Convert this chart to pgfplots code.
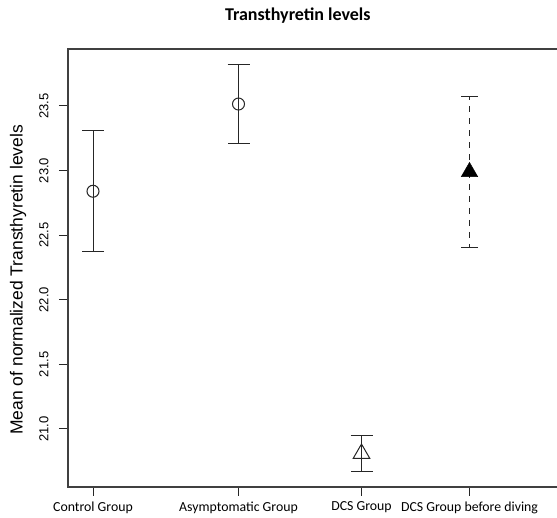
\documentclass[border=0pt]{standalone}
\usepackage{fontspec}
\setmainfont{Liberation Sans}
\newfontfamily\calibri{Carlito}
\usepackage{pgfplots}
\pgfplotsset{compat=1.18}
\begin{document}
\begin{tikzpicture}
\useasboundingbox (0,0) rectangle (557pt,518pt);
\begin{axis}[
  at={(68pt,31pt)}, anchor=south west,
  scale only axis, width=489pt, height=438pt,
  xmin=68, xmax=557, ymin=20.551, ymax=23.941,
  clip=false,
  axis line style={draw=none},
  tick align=outside, major tick length=9pt,
  tick style={black!85, line width=1pt},
  xtick pos=bottom, ytick pos=left,
  xtick={93,238.5,361.5,469.5},
  xticklabels={Control Group, Asymptomatic Group, DCS Group, DCS Group before diving},
  xticklabel style={font=\calibri\fontsize{13.8}{15}\selectfont, anchor=north, yshift=-2pt},
  ytick={21,21.5,...,23.5},
  yticklabel style={font=\fontsize{13}{15}\selectfont, rotate=90, anchor=south},
  yticklabel shift=7pt,
  /pgf/number format/.cd, fixed, fixed zerofill, precision=1, assume math mode=true,
  /pgfplots/.cd,
  ylabel={Mean of normalized Transthyretin levels},
  ylabel style={font=\fontsize{17.5}{19}\selectfont, at={(rel axis cs:-0.102,0.473)}, anchor=center},
  title={Transthyretin levels},
  title style={font=\calibri\bfseries\fontsize{18}{20}\selectfont, at={(rel axis cs:0.47,1.062)}, anchor=center},
  error bars/error bar style={line width=1pt, black!85},
  error bars/error mark options={solid, mark size=11pt, line width=1pt, black!85},
]
\draw[line width=1.3pt, black!75] (rel axis cs:1.01,0) -- (rel axis cs:0,0) -- (rel axis cs:0,1) -- (rel axis cs:1.01,1);
% control
\addplot[only marks, black!85, mark=o, mark size=6pt, mark options={line width=1pt},
  error bars/.cd, y dir=both, y explicit, error mark=|]
  coordinates {(93,22.84) +- (0,0.47)};
% asymptomatic
\addplot[only marks, black!85, mark=o, mark size=6pt, mark options={line width=1pt},
  error bars/.cd, y dir=both, y explicit, error mark=|]
  coordinates {(238.5,23.515) +- (0,0.305)};
% DCS
\addplot[only marks, black!85, mark=triangle, mark size=9.5pt, mark options={line width=1pt},
  error bars/.cd, y dir=both, y explicit, error mark=|]
  coordinates {(361.5,20.81) +- (0,0.142)};
% DCS before diving
\addplot[only marks, black, mark=triangle*, mark size=9.5pt, mark options={fill=black},
  error bars/.cd, y dir=both, y explicit, error mark=|,
  error bar style={dash pattern=on 6pt off 6pt},
  error mark options={solid, mark size=8.5pt, line width=1pt, black!85}]
  coordinates {(469.5,22.99) +- (0,0.585)};
\end{axis}
\end{tikzpicture}
\end{document}
